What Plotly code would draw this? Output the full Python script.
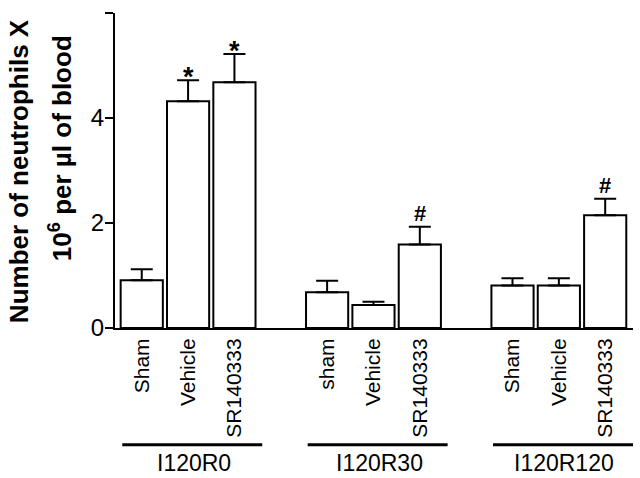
import plotly.graph_objects as go

groups = ["I120R0", "I120R30", "I120R120"]
categories = ["Sham", "Vehicle", "SR140333",
              "sham", "Vehicle", "SR140333",
              "Sham", "Vehicle", "SR140333"]
means = [0.91, 4.32, 4.68, 0.68, 0.44, 1.59, 0.81, 0.81, 2.15]
sem = [0.21, 0.40, 0.54, 0.22, 0.06, 0.34, 0.14, 0.14, 0.31]
marks = ["", "*", "*", "", "", "#", "", "", "#"]
y_ticks = [0, 2, 4, 6]

# bar positions: 3 bars per group, one empty slot between groups
positions = [g * 4 + i for g in range(len(groups)) for i in range(3)]
group_centers = [g * 4 + 1 for g in range(len(groups))]

FONT = "Liberation Sans, Arial, Helvetica, sans-serif"

fig = go.Figure()
fig.add_trace(go.Bar(
    x=positions, y=means, width=0.91,
    marker=dict(color="white", line=dict(color="black", width=2)),
    error_y=dict(type="data", symmetric=False, array=sem,
                 arrayminus=[0] * len(sem), color="black",
                 thickness=2, width=11),
    showlegend=False,
))

annotations = []
for p, m, s, mk in zip(positions, means, sem, marks):
    if mk:
        star = mk == "*"
        annotations.append(dict(
            x=p, y=m + s, xref="x", yref="y", text="<b>" + mk + "</b>",
            showarrow=False, yanchor="bottom", yshift=-14 if star else -1,
            font=dict(family=FONT, size=27 if star else 22, color="black"),
        ))

shapes = []
for gc, name in zip(group_centers, groups):
    shapes.append(dict(type="line", xref="x", yref="paper",
                       x0=gc - 1.42, x1=gc + 1.6, y0=-0.371, y1=-0.371,
                       line=dict(color="black", width=3)))
    annotations.append(dict(
        x=gc + 0.12, y=-0.43, xref="x", yref="paper", text=name,
        showarrow=False, xanchor="center", yanchor="middle",
        font=dict(family=FONT, size=23, color="black"),
    ))

# y-axis title as two lines
annotations.append(dict(
    x=0, y=0.498, xref="paper", yref="paper", xshift=-96,
    text="<b>Number of neutrophils X</b>", textangle=-90, showarrow=False,
    xanchor="center", yanchor="middle",
    font=dict(family=FONT, size=26, color="black"),
))
annotations.append(dict(
    x=0, y=0.571, xref="paper", yref="paper", xshift=-55,
    text="<b>10<sup>6</sup> per µl of blood</b>", textangle=-90, showarrow=False,
    xanchor="center", yanchor="middle",
    font=dict(family=FONT, size=26, color="black"),
))

fig.update_layout(
    width=640, height=478,
    margin=dict(l=115, r=7, t=13, b=150),
    paper_bgcolor="white", plot_bgcolor="white",
    font=dict(family=FONT, color="black"),
    annotations=annotations, shapes=shapes,
    xaxis=dict(
        range=[-0.577, 10.6], tickvals=positions, ticktext=categories,
        tickangle=-90, ticks="", showline=True, linecolor="black",
        linewidth=2, showgrid=False, zeroline=False,
        tickfont=dict(family=FONT, size=21, color="black"),
    ),
    yaxis=dict(
        range=[0, 6], tickvals=y_ticks, ticks="outside", ticklen=8,
        tickwidth=2, tickcolor="black", showline=True, linecolor="black",
        linewidth=2, showgrid=False, zeroline=False, ticklabelstandoff=-4,
        tickfont=dict(family=FONT, size=24, color="black"),
    ),
)

fig.write_html("out.html", config={"displayModeBar": False},
               post_script="document.body.style.margin='0';")
